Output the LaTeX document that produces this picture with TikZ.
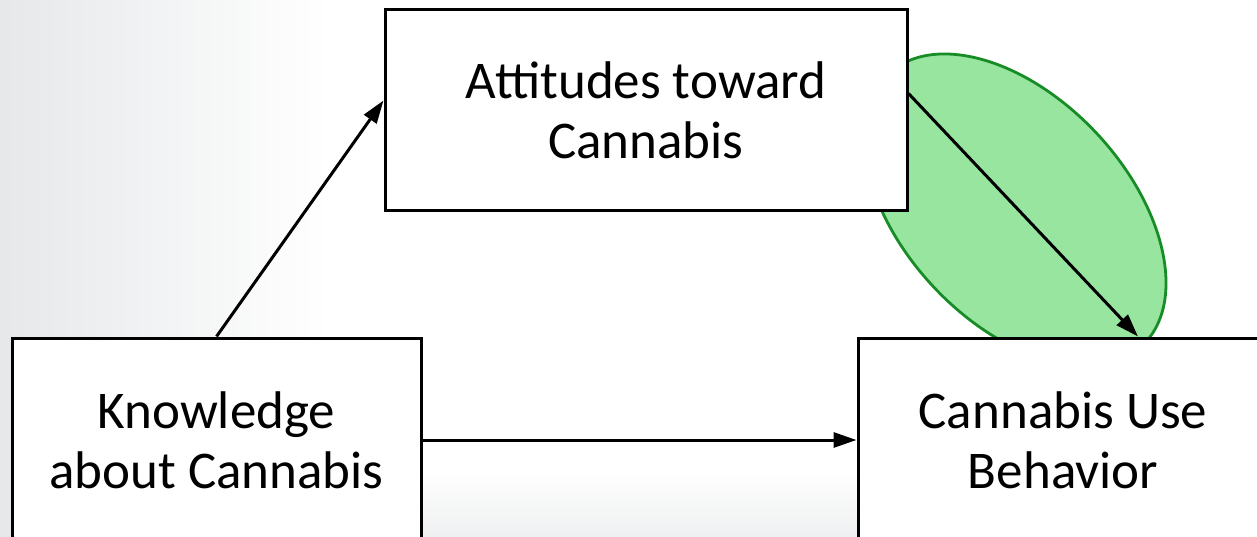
\documentclass[tikz,border=0pt]{standalone}
\usepackage{fontspec}
\setmainfont{Carlito}
\usetikzlibrary{arrows.meta,calc}
\definecolor{bggray}{RGB}{222,224,226}
\definecolor{ellfill}{RGB}{152,229,160}
\definecolor{elldraw}{RGB}{24,140,38}
\tikzset{
  box/.style={draw=black, line width=3pt, fill=white, align=center, inner sep=0pt,
    font=\fontsize{53}{60}\selectfont},
  conn/.style={line width=3pt, -{Triangle[length=23pt,width=15pt]}},
}
\begin{document}
\begin{tikzpicture}[x=1pt,y=-1pt]
\useasboundingbox (0,0) rectangle (1257,537);
% background gradient
\begin{scope}
  \clip (0,0) rectangle (1257,537);
  \shade[left color=bggray, right color=white] (-110,0) rectangle (330,537);
  \shade[top color=white, bottom color=bggray!50] (330,470) rectangle (870,537);
\end{scope}
% ellipse highlight
\draw[fill=ellfill, draw=elldraw, line width=2.8pt, rotate around={-47:(1015,210)}]
  (1015,210) ellipse [x radius=186, y radius=112];
% boxes
\node[box, minimum width=522pt, minimum height=201pt] (att) at (646,110.5) {Attitudes toward\\Cannabis};
\node[box, minimum width=409pt, minimum height=204pt] (know) at (216.5,440) {Knowledge\\about Cannabis};
\node[box, minimum width=410pt, minimum height=204pt] (use) at (1063,440) {Cannabis Use\\Behavior};
% connectors
\draw[conn] (know.north) -- ([yshift=10pt]att.west);
\draw[conn] (know.east) -- (use.west);
\draw[conn] ([yshift=17pt]att.east) -- ([xshift=75pt]use.north);
\end{tikzpicture}
\end{document}
